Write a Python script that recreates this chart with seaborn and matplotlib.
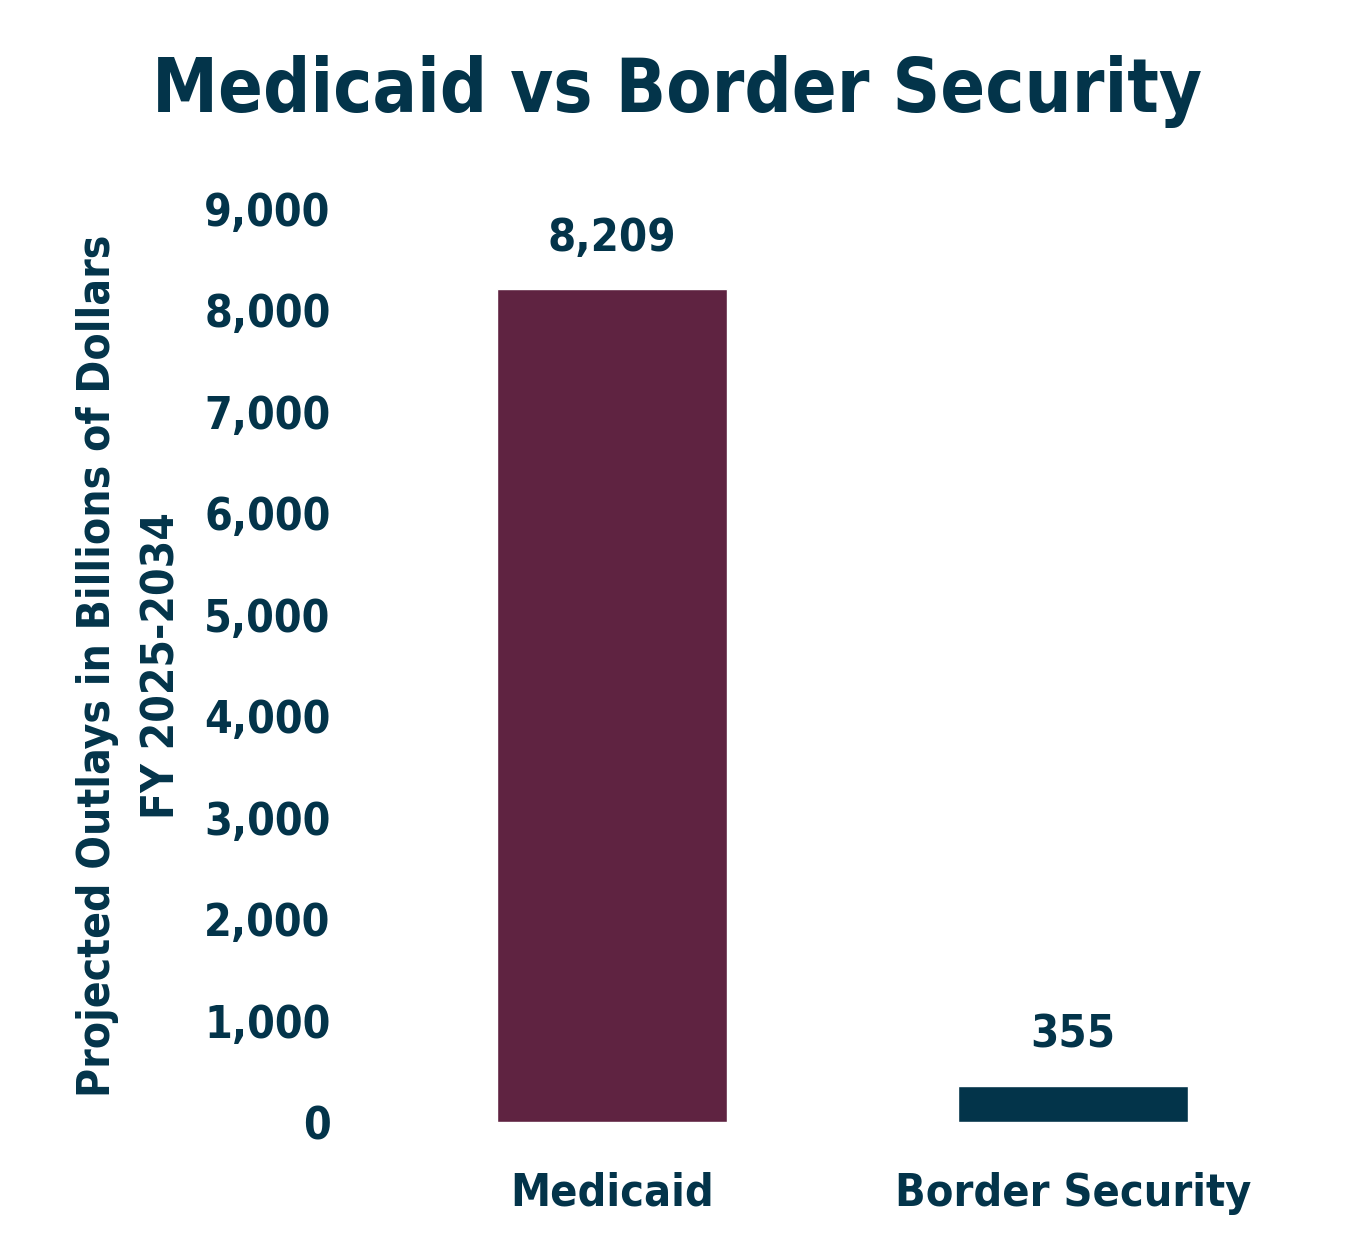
import matplotlib
matplotlib.use("Agg")
import matplotlib.pyplot as plt
import seaborn as sns
import pandas as pd

categories = ["Medicaid", "Border Security"]
values = [8209, 355]
value_labels = ["8,209", "355"]
y_ticks = [0, 1000, 2000, 3000, 4000, 5000, 6000, 7000, 8000, 9000]
y_tick_labels = ["0", "1,000", "2,000", "3,000", "4,000", "5,000", "6,000", "7,000", "8,000", "9,000"]
bar_colors = ["#5F2341", "#03344A"]
text_color = "#03344A"

sns.set_theme(style="white")
plt.rcParams['font.family'] = ['DejaVu Sans']
plt.rcParams['font.weight'] = 'bold'
plt.rcParams['font.stretch'] = 'condensed'

df = pd.DataFrame({"category": categories, "value": values})

fig = plt.figure(figsize=(13.53, 12.54), dpi=100)
ax = fig.add_axes([382/1353, 1 - 1122/1254, (1303 - 382)/1353, (1122 - 209)/1254])

sns.barplot(data=df, x="category", y="value", hue="category", palette=bar_colors,
            width=0.5, legend=False, ax=ax, saturation=1)

fs = dict(fontweight='bold', color=text_color, fontstretch='condensed')
ax.set_xlim(-0.5, 1.5)
ax.set_ylim(0, 9000)
ax.set_yticks(y_ticks)
ax.set_yticklabels(y_tick_labels, fontsize=32, **fs)
ax.set_xticks(range(len(categories)))
ax.set_xticklabels(categories, fontsize=32.2, **fs)
ax.tick_params(axis='y', length=0, pad=37)
ax.tick_params(axis='x', length=0, pad=36)
ax.set_xlabel("")
ax.set_ylabel("Projected Outlays in Billions of Dollars\nFY 2025-2034", fontsize=31.8,
              labelpad=15, linespacing=1.62, **fs)
for s in ax.spines.values():
    s.set_visible(False)

for i, cont in enumerate(ax.containers):
    ax.bar_label(cont, labels=[value_labels[i]], padding=21, fontsize=32.5, **fs)

fig.text(677/1353, 1 - 92/1254, "Medicaid vs Border Security", ha='center', va='center',
         fontsize=53, **fs)

fig.savefig("out.png", dpi=100)
